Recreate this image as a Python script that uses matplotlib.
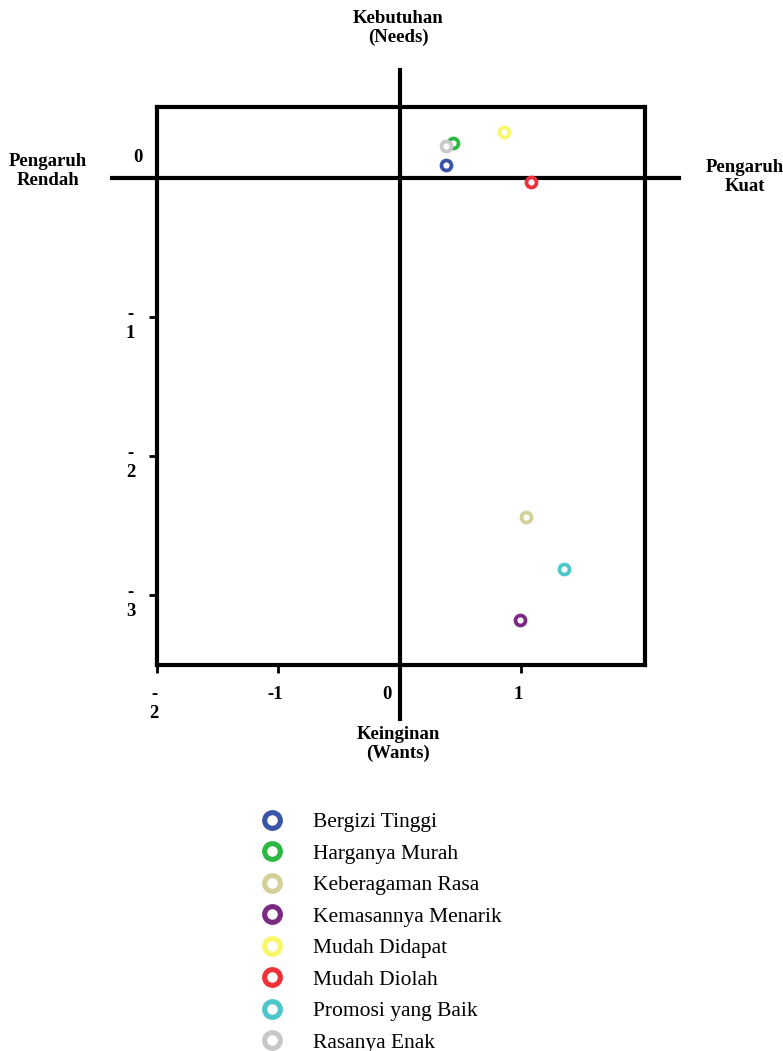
import matplotlib
matplotlib.use("Agg")
import matplotlib.pyplot as plt
from matplotlib.lines import Line2D

plt.rcParams['font.family'] = ['Liberation Serif', 'DejaVu Serif']

# data
labels = ["Bergizi Tinggi", "Harganya Murah", "Keberagaman Rasa", "Kemasannya Menarik",
          "Mudah Didapat", "Mudah Diolah", "Promosi yang Baik", "Rasanya Enak"]
xs = [0.38, 0.44, 1.04, 0.99, 0.86, 1.08, 1.35, 0.38]
ys = [0.09, 0.25, -2.44, -3.18, 0.33, -0.03, -2.81, 0.23]
colors = ["#3a55a8", "#2db843", "#d4d09a", "#7b2a84",
          "#f8f76a", "#ee3038", "#4dc7c9", "#c8c8c8"]

xticks = [-2, -1, 0, 1]
xticklabels = ["-\n2", "-1", "0", "1"]
yticks = [0, -1, -2, -3]
yticklabels = ["0", "-\n1", "-\n2", "-\n3"]

fig = plt.figure(figsize=(7.83, 10.51), dpi=100)
ax = fig.add_axes([0.2005, 0.3673, 0.6233, 0.5309])
ax.set_xlim(-2, 2.02)
ax.set_ylim(-3.5, 0.51)

for s in ax.spines.values():
    s.set_linewidth(3)

for x, y, c in zip(xs, ys, colors):
    ax.plot(x, y, 'o', ms=7.2, mfc='white', mec=c, mew=2.7, zorder=5)

# cross lines through the origin, running past the frame
ax.plot([-2.37, 2.30], [0, 0], color='black', lw=3, clip_on=False, zorder=3)
ax.plot([0, 0], [0.775, -3.89], color='black', lw=3, clip_on=False, zorder=3)

ax.set_xticks(xticks)
ax.set_yticks(yticks)
ax.set_xticklabels([])
ax.set_yticklabels([])
ax.tick_params(axis='both', direction='out', length=6, width=2)

bold = dict(fontweight='bold', fontsize=13.5)
for t, lab in zip(xticks, xticklabels):
    dx = -9 if t == 0 else -2
    ax.annotate(lab, (t, -3.5), xytext=(dx, -15), textcoords='offset points',
                ha='center', va='top', linespacing=1.15, annotation_clip=False, **bold)
for t, lab in zip(yticks, yticklabels):
    if t == 0:
        ax.annotate(lab, (-2, t), xytext=(-14, 15), textcoords='offset points',
                    ha='center', va='center', annotation_clip=False, **bold)
    else:
        ax.annotate(lab, (-2, t), xytext=(-19, 8), textcoords='offset points',
                    ha='center', va='top', linespacing=1.15, annotation_clip=False, **bold)

fig.text(398 / 783, 1 - 28 / 1051, "Kebutuhan\n(Needs)", ha='center', va='center',
         linespacing=1.2, **bold)
fig.text(398 / 783, 1 - 744 / 1051, "Keinginan\n(Wants)", ha='center', va='center',
         linespacing=1.2, **bold)
fig.text(48 / 783, 1 - 171 / 1051, "Pengaruh\nRendah", ha='center', va='center',
         linespacing=1.2, **bold)
fig.text(745 / 783, 1 - 177 / 1051, "Pengaruh\nKuat", ha='center', va='center',
         linespacing=1.2, **bold)

handles = [Line2D([], [], ls='none', marker='o', ms=11.3, mfc='white', mec=c, mew=3.7)
           for c in colors]
fig.legend(handles=handles, labels=labels, loc='upper left',
           bbox_to_anchor=(240 / 783, 1 - 793 / 1051), frameon=False,
           fontsize=15.5, labelspacing=0.53, handletextpad=1.3, handlelength=1.2)

fig.savefig("out.png", dpi=100)
